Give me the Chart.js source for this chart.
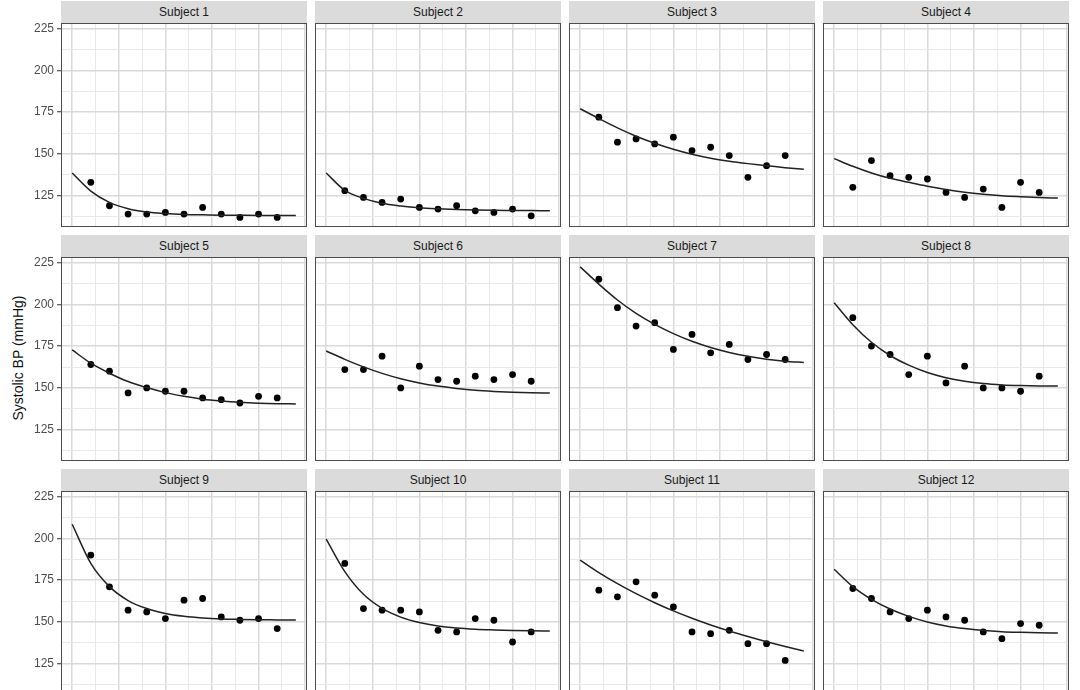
<!DOCTYPE html>
<html>
<head>
<meta charset="utf-8">
<title>Systolic BP by subject</title>
<script src="https://cdn.jsdelivr.net/npm/chart.js@4.4.1/dist/chart.umd.min.js"></script>
<style>
  html, body {
    margin: 0;
    padding: 0;
    background: #fff;
    width: 1080px;
    height: 690px;
    overflow: hidden;
    font-family: "Liberation Sans", Arial, sans-serif;
  }
  #fig { position: relative; width: 1080px; height: 690px; }
  .strip {
    position: absolute;
    background: #dbdbdb;
    color: #1a1a1a;
    font-size: 12px;
    text-align: center;
    height: 22px;
    line-height: 22px;
  }
  canvas { position: absolute; }
  #ylab {
    position: absolute;
    left: -82px;
    top: 350px;
    width: 200px;
    height: 16px;
    line-height: 16px;
    text-align: center;
    font-size: 14px;
    color: #111;
    transform: rotate(-90deg);
  }
</style>
</head>
<body>
<div id="fig">
  <div id="ylab">Systolic BP (mmHg)</div>
</div>
<script>
// Data
const subjects = ["Subject 1", "Subject 2", "Subject 3", "Subject 4",
                  "Subject 5", "Subject 6", "Subject 7", "Subject 8",
                  "Subject 9", "Subject 10", "Subject 11", "Subject 12"];
const obsTimes = [1, 2, 3, 4, 5, 6, 7, 8, 9, 10, 11];
const fitTimes = [0, 1, 2, 3, 4, 5, 6, 7, 8, 9, 10, 11, 12];

const observedBP = [
  [133, 119, 114, 114, 115, 114, 118, 114, 112, 114, 112],
  [128, 124, 121, 123, 118, 117, 119, 116, 115, 117, 113],
  [172, 157, 159, 156, 160, 152, 154, 149, 136, 143, 149],
  [130, 146, 137, 136, 135, 127, 124, 129, 118, 133, 127],
  [164, 160, 147, 150, 148, 148, 144, 143, 141, 145, 144],
  [161, 161, 169, 150, 163, 155, 154, 157, 155, 158, 154],
  [215, 198, 187, 189, 173, 182, 171, 176, 167, 170, 167],
  [192, 175, 170, 158, 169, 153, 163, 150, 150, 148, 157],
  [190, 171, 157, 156, 152, 163, 164, 153, 151, 152, 146],
  [185, 158, 157, 157, 156, 145, 144, 152, 151, 138, 144],
  [169, 165, 174, 166, 159, 144, 143, 145, 137, 137, 127],
  [170, 164, 156, 152, 157, 153, 151, 144, 140, 149, 148]
];

const fittedBP = [
  [138.6, 127.8, 121.0, 117.2, 115.2, 114.3, 113.8, 113.6, 113.4, 113.3, 113.2, 113.2, 113.2],
  [138.6, 128.2, 123.4, 120.5, 118.9, 117.8, 117.2, 116.8, 116.5, 116.3, 116.2, 116.1, 116.0],
  [177.0, 171.2, 165.6, 160.6, 156.4, 152.8, 149.8, 147.4, 145.6, 144.2, 143.0, 141.8, 140.8],
  [147.2, 142.6, 138.6, 135.4, 133.0, 130.7, 128.7, 127.1, 125.9, 125.0, 124.4, 123.9, 123.6],
  [172.7, 164.8, 158.8, 153.8, 150.2, 147.2, 145.0, 143.3, 142.2, 141.4, 140.9, 140.6, 140.4],
  [172.1, 167.1, 162.6, 158.7, 155.5, 153.0, 151.1, 149.7, 148.6, 147.9, 147.4, 147.1, 146.9],
  [222.4, 212.1, 202.6, 194.6, 188.0, 182.5, 177.9, 174.2, 171.2, 168.9, 167.2, 166.0, 165.2],
  [200.9, 187.8, 177.3, 169.4, 163.6, 159.2, 156.1, 154.0, 152.6, 151.8, 151.4, 151.2, 151.1],
  [208.4, 185.0, 171.1, 162.8, 158.0, 155.1, 153.4, 152.4, 151.8, 151.5, 151.3, 151.2, 151.1],
  [199.5, 180.1, 166.5, 158.1, 152.9, 149.6, 147.5, 146.3, 145.6, 145.2, 144.9, 144.7, 144.6],
  [186.9, 179.5, 172.9, 166.9, 161.5, 156.6, 152.2, 148.2, 144.6, 141.3, 138.2, 135.3, 132.6],
  [181.5, 171.1, 163.5, 157.7, 153.3, 150.0, 147.6, 146.0, 144.9, 144.2, 143.8, 143.5, 143.4]
];

const yTickLabels = [125, 150, 175, 200, 225];
const xMajorBreaks = [0, 2.5, 5, 7.5, 10, 12.5];

// Layout (px)
const COL_LEFT = [61, 315, 569, 823];
const ROW_TOP = [23, 257, 491];
const PANEL_W = 246;
const PANEL_H = 204;
const STRIP_H = 22;
const AXIS_W = 30;

// Grid lines: majors plus halfway minors
function withMinors(majors) {
  const out = [];
  majors.forEach((v, i) => {
    if (i > 0) out.push((majors[i - 1] + v) / 2);
    out.push(v);
  });
  return out;
}
const yGrid = [112.5].concat(withMinors(yTickLabels));
const xGrid = withMinors(xMajorBreaks);

const isMajor = (v, list) => list.some(m => Math.abs(m - v) < 1e-6);
const gridColor = list => c => isMajor(c.tick.value, list) ? "#dadada" : "#e9e9e9";
const gridWidth = list => c => isMajor(c.tick.value, list) ? 1.5 : 1;

const panelBorder = {
  id: "panelBorder",
  afterDraw(chart) {
    const { ctx, chartArea: a } = chart;
    ctx.save();
    ctx.strokeStyle = "#4d4d4d";
    ctx.lineWidth = 1;
    ctx.strokeRect(a.left + 0.5, a.top + 0.5, a.right - a.left - 1, a.bottom - a.top - 1);
    ctx.restore();
  }
};

const fig = document.getElementById("fig");

subjects.forEach((name, i) => {
  const col = i % 4;
  const row = Math.floor(i / 4);
  const left = COL_LEFT[col];
  const top = ROW_TOP[row];
  const showY = col === 0;
  const axisW = showY ? AXIS_W : 0;

  const strip = document.createElement("div");
  strip.className = "strip";
  strip.style.left = left + "px";
  strip.style.top = (top - STRIP_H) + "px";
  strip.style.width = PANEL_W + "px";
  strip.textContent = name;
  fig.appendChild(strip);

  const canvas = document.createElement("canvas");
  canvas.width = PANEL_W + axisW;
  canvas.height = PANEL_H;
  canvas.style.left = (left - axisW) + "px";
  canvas.style.top = top + "px";
  fig.appendChild(canvas);

  new Chart(canvas, {
    type: "scatter",
    data: {
      datasets: [
        {
          label: "fit",
          data: fitTimes.map((t, k) => ({ x: t, y: fittedBP[i][k] })),
          showLine: true,
          borderColor: "#222",
          borderWidth: 1.5,
          pointRadius: 0,
          cubicInterpolationMode: "monotone",
          fill: false
        },
        {
          label: "observed",
          data: obsTimes.map((t, k) => ({ x: t, y: observedBP[i][k] })),
          backgroundColor: "#000",
          borderWidth: 0,
          pointRadius: 3.4
        }
      ]
    },
    options: {
      responsive: false,
      animation: false,
      layout: { padding: 0, autoPadding: false },
      plugins: { legend: { display: false }, tooltip: { enabled: false } },
      scales: {
        x: {
          type: "linear",
          min: -0.6,
          max: 12.6,
          afterBuildTicks: s => { s.ticks = xGrid.map(v => ({ value: v })); },
          afterFit: s => {
            s.height = 0;
            s.paddingLeft = 0; s.paddingRight = 0;
          },
          ticks: { display: false },
          grid: { drawTicks: false, color: gridColor(xMajorBreaks), lineWidth: gridWidth(xMajorBreaks) },
          border: { display: false }
        },
        y: {
          type: "linear",
          min: 106.3,
          max: 228.3,
          afterBuildTicks: s => { s.ticks = yGrid.map(v => ({ value: v })); },
          afterFit: s => {
            s.width = axisW;
            s.paddingTop = 0; s.paddingBottom = 0;
          },
          ticks: {
            display: showY,
            autoSkip: false,
            padding: 3,
            color: "#4d4d4d",
            font: { family: "'Liberation Sans', Arial, sans-serif", size: 12 },
            callback: v => isMajor(v, yTickLabels) ? String(v) : ""
          },
          grid: {
            drawTicks: showY,
            tickLength: 4,
            tickColor: c => isMajor(c.tick.value, yTickLabels) ? "#333" : "rgba(0,0,0,0)",
            tickWidth: 1,
            color: gridColor(yTickLabels),
            lineWidth: gridWidth(yTickLabels)
          },
          border: { display: false }
        }
      }
    },
    plugins: [panelBorder]
  });
});
</script>
</body>
</html>
